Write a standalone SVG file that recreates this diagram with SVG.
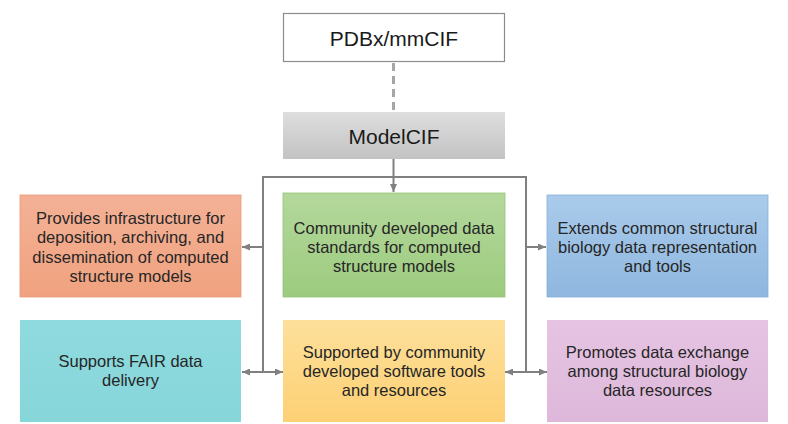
<svg xmlns="http://www.w3.org/2000/svg" width="788" height="424" viewBox="0 0 788 424">
<defs>
<style>
.t{font-family:"Liberation Sans",Arial,sans-serif;font-size:16.5px;fill:#262626;text-anchor:middle}
.h{font-family:"Liberation Sans",Arial,sans-serif;font-size:21px;fill:#1a1a1a;text-anchor:middle}
.c{fill:none;stroke:#808080;stroke-width:2}
</style>
<linearGradient id="gGray" x1="0" y1="0" x2="0" y2="1"><stop offset="0" stop-color="#dedede"/><stop offset="1" stop-color="#c3c3c3"/></linearGradient>
<linearGradient id="gOr" x1="0" y1="0" x2="0" y2="1"><stop offset="0" stop-color="#f4b196"/><stop offset="1" stop-color="#f0a27f"/></linearGradient>
<linearGradient id="gGr" x1="0" y1="0" x2="0" y2="1"><stop offset="0" stop-color="#b4d89c"/><stop offset="1" stop-color="#9ccb7e"/></linearGradient>
<linearGradient id="gBl" x1="0" y1="0" x2="0" y2="1"><stop offset="0" stop-color="#aacbeb"/><stop offset="1" stop-color="#8fb7df"/></linearGradient>
<linearGradient id="gCy" x1="0" y1="0" x2="0" y2="1"><stop offset="0" stop-color="#8fdadf"/><stop offset="1" stop-color="#86d6da"/></linearGradient>
<linearGradient id="gYe" x1="0" y1="0" x2="0" y2="1"><stop offset="0" stop-color="#fde09b"/><stop offset="1" stop-color="#fdd074"/></linearGradient>
<linearGradient id="gPk" x1="0" y1="0" x2="0" y2="1"><stop offset="0" stop-color="#e6c3e3"/><stop offset="1" stop-color="#ddb8da"/></linearGradient>
<marker id="ah" viewBox="0 0 8 7" refX="8" refY="3.5" markerWidth="8" markerHeight="7" markerUnits="userSpaceOnUse" orient="auto-start-reverse">
<path d="M0,0 L8,3.5 L0,7 Z" fill="#808080"/>
</marker>
</defs>
<rect width="788" height="424" fill="#ffffff"/>

<g id="connectors">
<line x1="393.5" y1="63" x2="393.5" y2="111" stroke="#a6a6a6" stroke-width="3" stroke-dasharray="8,5"/>
<path class="c" d="M393.5 159 V192" marker-end="url(#ah)"/>
<path class="c" d="M263 372 V177 H526 V372"/>
<path class="c" d="M263 247 H242" marker-end="url(#ah)"/>
<path class="c" d="M526 247 H546" marker-end="url(#ah)"/>
<path class="c" d="M242 372 H283" marker-start="url(#ah)" marker-end="url(#ah)"/>
<path class="c" d="M505 372 H547" marker-start="url(#ah)" marker-end="url(#ah)"/>
</g>

<g id="pdbx">
<rect x="283.5" y="13.5" width="221" height="48" fill="#ffffff" stroke="#8c8c8c" stroke-width="1.2"/>
<text class="h" x="394" y="45.5">PDBx/mmCIF</text>
</g>

<g id="modelcif">
<rect x="283" y="112" width="222" height="47" fill="url(#gGray)"/>
<text class="h" x="394" y="143.5">ModelCIF</text>
</g>

<g id="infrastructure">
<rect x="20" y="195" width="221" height="102" fill="url(#gOr)" stroke="#e99a78" stroke-width="0.8"/>
<text class="t" x="130.5" y="223.5">Provides infrastructure for</text>
<text class="t" x="130.5" y="243">deposition, archiving, and</text>
<text class="t" x="130.5" y="262.5">dissemination of computed</text>
<text class="t" x="130.5" y="282">structure models</text>
</g>

<g id="standards">
<rect x="283" y="193" width="222" height="104" fill="url(#gGr)" stroke="#94c477" stroke-width="0.8"/>
<text class="t" x="394" y="234">Community developed data</text>
<text class="t" x="394" y="253">standards for computed</text>
<text class="t" x="394" y="272">structure models</text>
</g>

<g id="extends">
<rect x="547" y="195" width="221" height="102" fill="url(#gBl)" stroke="#86afd8" stroke-width="0.8"/>
<text class="t" x="657.5" y="234">Extends common structural</text>
<text class="t" x="657.5" y="253">biology data representation</text>
<text class="t" x="657.5" y="272">and tools</text>
</g>

<g id="fair">
<rect x="20" y="320" width="221" height="102" fill="url(#gCy)"/>
<text class="t" x="130.5" y="367">Supports FAIR data</text>
<text class="t" x="130.5" y="386">delivery</text>
</g>

<g id="software">
<rect x="283" y="320" width="222" height="102" fill="url(#gYe)"/>
<text class="t" x="394" y="357.5">Supported by community</text>
<text class="t" x="394" y="376.5">developed software tools</text>
<text class="t" x="394" y="395.5">and resources</text>
</g>

<g id="exchange">
<rect x="547" y="320" width="221" height="102" fill="url(#gPk)"/>
<text class="t" x="657.5" y="357.5">Promotes data exchange</text>
<text class="t" x="657.5" y="376.5">among structural biology</text>
<text class="t" x="657.5" y="395.5">data resources</text>
</g>
</svg>
